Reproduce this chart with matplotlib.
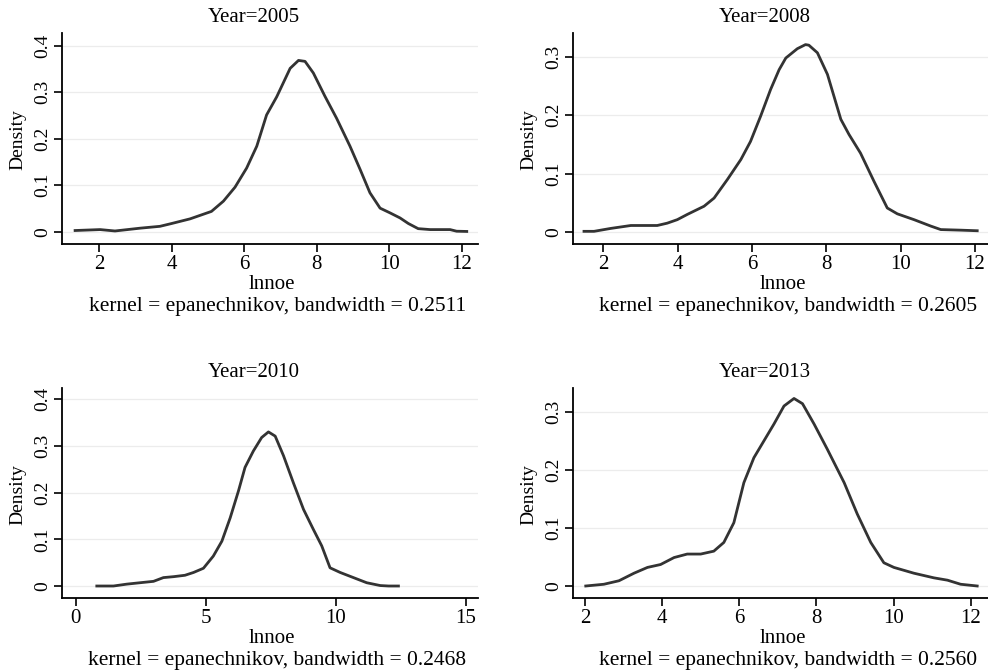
import matplotlib
matplotlib.use("Agg")
import matplotlib.pyplot as plt

plt.rcParams['font.family'] = ['Liberation Serif', 'DejaVu Serif']

# kernel density estimates of lnnoe
years = [2005, 2008, 2010, 2013]
bandwidths = ["0.2511", "0.2605", "0.2468", "0.2560"]

x2005 = [1.34, 2.03, 2.44, 3.13, 3.68, 4.0, 4.51, 5.1, 5.43, 5.75, 6.07, 6.35, 6.62, 6.9, 7.27,
         7.5, 7.68, 7.91, 8.23, 8.55, 8.92, 9.2, 9.47, 9.75, 10.02, 10.3, 10.53, 10.8, 11.13,
         11.68, 11.86, 12.14]
y2005 = [0.003, 0.005, 0.002, 0.008, 0.012, 0.018, 0.028, 0.044, 0.066, 0.096, 0.137, 0.184,
         0.251, 0.29, 0.351, 0.368, 0.366, 0.341, 0.291, 0.244, 0.184, 0.134, 0.084, 0.051,
         0.041, 0.03, 0.018, 0.007, 0.005, 0.005, 0.0015, 0.001]

x2008 = [1.48, 1.75, 2.2, 2.74, 3.09, 3.45, 3.72, 3.99, 4.26, 4.71, 4.98, 5.34, 5.7, 5.96, 6.23,
         6.5, 6.73, 6.91, 7.22, 7.44, 7.53, 7.76, 8.03, 8.39, 8.61, 8.92, 9.28, 9.64, 9.91,
         10.36, 10.81, 11.08, 11.62, 12.06]
y2008 = [0.001, 0.001, 0.006, 0.011, 0.011, 0.011, 0.015, 0.021, 0.03, 0.044, 0.058, 0.09,
         0.124, 0.155, 0.198, 0.244, 0.278, 0.298, 0.314, 0.321, 0.32, 0.307, 0.27, 0.193,
         0.167, 0.135, 0.087, 0.041, 0.031, 0.021, 0.01, 0.004, 0.003, 0.002]

x2010 = [0.81, 1.45, 1.96, 2.47, 2.99, 3.37, 3.76, 4.2, 4.53, 4.91, 5.29, 5.62, 5.94, 6.26, 6.51,
         6.83, 7.15, 7.41, 7.67, 7.99, 8.37, 8.76, 9.14, 9.46, 9.78, 10.17, 10.68, 11.19, 11.71,
         12.03, 12.41]
y2010 = [0.0, 0.0, 0.004, 0.007, 0.01, 0.018, 0.02, 0.023, 0.029, 0.038, 0.064, 0.096, 0.146,
         0.204, 0.254, 0.289, 0.318, 0.33, 0.321, 0.279, 0.221, 0.164, 0.121, 0.086, 0.039,
         0.029, 0.018, 0.007, 0.001, 0.0, 0.0]

x2013 = [2.02, 2.49, 2.88, 3.27, 3.62, 3.96, 4.31, 4.65, 5.0, 5.34, 5.6, 5.86, 6.12, 6.38, 6.64,
         6.9, 7.16, 7.42, 7.64, 7.94, 8.28, 8.72, 9.06, 9.41, 9.75, 10.01, 10.53, 11.05, 11.4,
         11.74, 12.17]
y2013 = [0.0, 0.003, 0.009, 0.022, 0.032, 0.037, 0.049, 0.055, 0.055, 0.06, 0.075, 0.109, 0.178,
         0.221, 0.25, 0.279, 0.31, 0.323, 0.314, 0.279, 0.236, 0.178, 0.124, 0.075, 0.04, 0.032,
         0.022, 0.014, 0.01, 0.003, 0.0]

xs = [x2005, x2008, x2010, x2013]
ys = [y2005, y2008, y2010, y2013]
xticks = [[2, 4, 6, 8, 10, 12], [2, 4, 6, 8, 10, 12], [0, 5, 10, 15], [2, 4, 6, 8, 10, 12]]
yticks = [[0, 0.1, 0.2, 0.3, 0.4], [0, 0.1, 0.2, 0.3], [0, 0.1, 0.2, 0.3, 0.4], [0, 0.1, 0.2, 0.3]]
ytick_labels = [["0", "0.1", "0.2", "0.3", "0.4"], ["0", "0.1", "0.2", "0.3"],
                ["0", "0.1", "0.2", "0.3", "0.4"], ["0", "0.1", "0.2", "0.3"]]
xlims = [(0.98, 12.45), (1.185, 12.35), (-0.527, 15.47), (1.69, 12.45)]
ylims = [(-0.0258, 0.427), (-0.0206, 0.341), (-0.0257, 0.424), (-0.0207, 0.341)]

# axes boxes in figure fraction: left, bottom, width, height
boxes = [[0.0628, 0.637, 0.421, 0.314],
         [0.580, 0.637, 0.420, 0.314],
         [0.0628, 0.1101, 0.421, 0.3125],
         [0.580, 0.1101, 0.420, 0.3125]]

fig = plt.figure(figsize=(9.88, 6.72), dpi=100)
line_col = '#333333'

for i in range(4):
    ax = fig.add_axes(boxes[i])
    ax.plot(xs[i], ys[i], color=line_col, lw=2.0, solid_joinstyle='round')
    ax.set_xlim(xlims[i])
    ax.set_ylim(ylims[i])
    ax.set_xticks(xticks[i])
    ax.set_yticks(yticks[i])
    ax.set_yticklabels(ytick_labels[i], rotation=90, va='center')
    for t in yticks[i]:
        ax.axhline(t, color='#ececec', lw=0.9, zorder=0)
    ax.spines['top'].set_visible(False)
    ax.spines['right'].set_visible(False)
    ax.spines['left'].set_linewidth(1.3)
    ax.spines['bottom'].set_linewidth(1.3)
    ax.tick_params(axis='x', direction='out', length=6, width=1.2, labelsize=15, pad=2)
    ax.tick_params(axis='y', direction='out', length=6, width=1.2, labelsize=14, pad=2)

    ax.text(0.462, 1.072, "Year=%d" % years[i], transform=ax.transAxes,
            ha='center', va='center', fontsize=15)
    ax.text(0.505, -0.193, "lnnoe", transform=ax.transAxes,
            ha='center', va='center', fontsize=15)
    ax.text(0.518, -0.298, "kernel = epanechnikov, bandwidth = " + bandwidths[i],
            transform=ax.transAxes, ha='center', va='center', fontsize=15.5)
    ax.text(-0.106, 0.493, "Density", transform=ax.transAxes, rotation=90,
            ha='center', va='center', fontsize=14)

fig.savefig("out.png", dpi=100, facecolor='white')
